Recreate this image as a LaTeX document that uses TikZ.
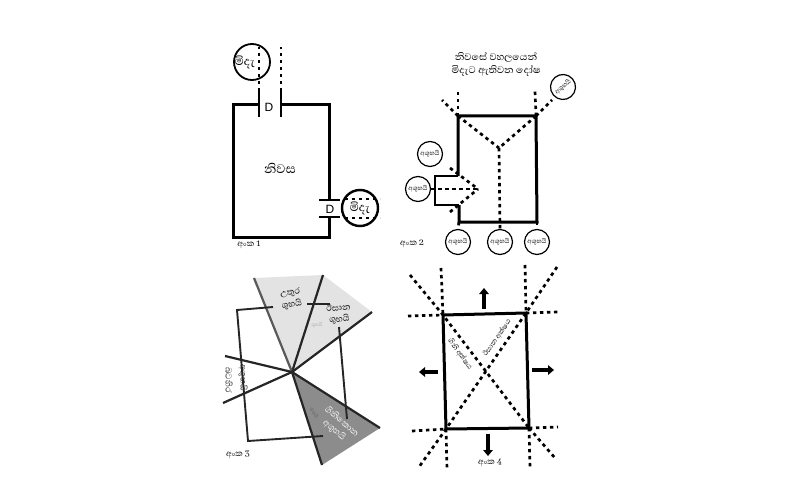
\documentclass[tikz,border=0pt]{standalone}
\usepackage{fontspec}
\setsansfont{Liberation Sans}
\newfontfamily\sinfont[Script=Sinhala]{Abhaya Libre}
\usetikzlibrary{shapes.geometric, positioning, arrows.meta, calc}
\tikzset{
  wall/.style={line width=3pt, line join=miter},
  door/.style={line width=2.6pt},
  dots/.style={line width=2.7pt, dash pattern=on 3.4pt off 3.6pt},
  axis/.style={line width=2.2pt, black!85},
  frame/.style={line width=1.9pt, black!85},
  yard/.style={circle, draw=black, line width=1.8pt, minimum size=36pt, inner sep=0pt, font=\sinfont\fontsize{15}{15}\selectfont},
  bad/.style={circle, draw=black, line width=1.2pt, minimum size=25pt, inner sep=0pt, font=\sinfont\fontsize{8}{8}\selectfont},
  caption/.style={font=\sinfont\fontsize{10.5}{11}\selectfont},
  lab/.style={font=\sinfont\fontsize{11}{11.5}\selectfont, align=center, inner sep=0pt},
  bigarrow/.style={line width=4.6pt, -{Triangle[length=6pt, width=9.5pt]}}
}
\begin{document}
\begin{tikzpicture}[x=1pt, y=-1pt]
    \useasboundingbox (0,0) rectangle (800,500);

    % --- Panel 1 ---
    \coordinate (a1) at (259,105);
    \coordinate (a2) at (233,105);
    \coordinate (a3) at (233,237);
    \coordinate (a4) at (329,237);
    \coordinate (a5) at (329,200);
    \coordinate (a6) at (329,217);
    \coordinate (a7) at (329,105);
    \coordinate (a8) at (281,105);
    \node (yardtop) [yard] at (252,62) {\hspace*{-14pt}මිදැ};
    \node (yardright) [yard, line width=2.4pt] at (360,208) {මිදැ};
    \node (house) [font=\sinfont\fontsize{16}{16}\selectfont] at (280,168) {නිවස};
    \node (dtop) [font=\sffamily\fontsize{12}{12}\selectfont] at (269,107) {D};
    \node (dright) [font=\sffamily\fontsize{12}{12}\selectfont] at (330,209) {D};
    \node (cap1) [caption] at (249,245) {අංක 1};
    \draw [wall] (a1) -- (a2) -- (a3) -- (a4) -- (a6);
    \draw [wall] (a5) -- (a7) -- (a8);
    \draw [door] (259,88) coordinate (t1) -- (259,117);
    \draw [door] (281,88) coordinate (t2) -- (281,117);
    \draw [door] (319,200) coordinate (r1) -- (340,200);
    \draw [door] (319,217) coordinate (r2) -- (340,217);
    \draw [dots] (t1) ++(0,-4) -- (259,47);
    \draw [dots] (t2) ++(0,-4) -- (281,47);
    \draw [dots] (345,199) -- (380,199);
    \draw [dots] (345,218) -- (380,218);

    % --- Panel 2 ---
    \coordinate (b1) at (458,116);
    \coordinate (b2) at (536,116);
    \coordinate (b3) at (537,222);
    \coordinate (b4) at (459,222);
    \coordinate (b5) at (459,205);
    \coordinate (b6) at (435,205);
    \coordinate (b7) at (435,176);
    \coordinate (b8) at (458,176);
    \coordinate (ridge) at (499,148);
    \coordinate (tip) at (478,189);
    \node (title) [lab, font=\sinfont\fontsize{12.5}{13}\selectfont] at (496,64) {නිවසේ වහලයෙන්\\ මිදැට ඇතිවන දෝෂ};
    \node (c1) [bad] at (458,242) {අශුභයි};
    \node (c2) [bad] at (500,242) {අශුභයි};
    \node (c3) [bad] at (537,242) {අශුභයි};
    \node (c4) [bad, rotate=40] at (563,87) {අශුභයි};
    \node (c5) [bad] at (430,154) {අශුභයි};
    \node (c6) [bad] at (418,189) {අශුභයි};
    \node (cap2) [caption] at (412,244) {අංක 2};
    \draw [wall] (b8) -- (b1) -- (b2) -- (b3) -- (b4) -- (b5);
    \draw [wall, line width=2.4pt] (b5) -- (b6) -- (b7) -- (b8);
    \draw [dots] (b1) -- (458,91);
    \draw [dots] (b2) -- (535,91);
    \draw [dots] (b1) -- (442,100);
    \draw [dots] (b1) -- (ridge);
    \draw [dots] (b2) -- (ridge);
    \draw [dots] (b2) -- (552,100);
    \draw [dots] (ridge) -- (c2.north);
    \draw [dots] (c6.east) -- (tip);
    \draw [dots] (450,168) -- (tip);
    \draw [dots] (450,212) -- (tip);
    \draw [dots] (b4) -- (c1.north);
    \draw [dots] (b3) -- (c3.north);

    % --- Panel 3 ---
    \coordinate (o) at (292,372);
    \coordinate (w1) at (254,278);
    \coordinate (w2) at (323,275);
    \coordinate (w3) at (372,312);
    \coordinate (w4) at (380,428);
    \coordinate (w5) at (322,465);
    \fill [black!11] (o) -- (w1) -- (w2) -- (w3) -- cycle;
    \fill [black!45] (o) -- (w4) -- (w5) -- cycle;
    \draw [axis] (o) -- (w2);
    \draw [axis, black!65] (o) -- (w1);
    \draw [axis] (o) -- (w3);
    \draw [axis] (o) -- (w4);
    \draw [axis] (o) -- (w5);
    \draw [axis] (o) -- (225,356);
    \draw [axis] (o) -- (223,403);
    \draw [frame] (273,307) -- (237,310) -- (248,441) -- (323,436);
    \draw [frame] (307,304) -- (330,304);
    \draw [frame] (339,327) -- (347,419);
    \node (north) [lab, rotate=8] at (291,299) {උතුර\\ ශුභයි};
    \node (east) [lab, rotate=5] at (339,314) {ඊසාන\\ ශුභයි};
    \node (faint) [lab, black!35, font=\sinfont\fontsize{6}{6}\selectfont] at (317,325) {ශුභයි};
    \node (west) [lab, rotate=-90, black!85] at (229,380) {බටහිර};
    \node (west2) [lab, rotate=-90, black!85] at (243,378) {අශුභයි};
    \node (southeast) [lab, rotate=-40, white] at (338,426) {ගිනිකොන\\ අශුභයි};
    \node (faint2) [lab, black!65, rotate=-60, font=\sinfont\fontsize{6}{6}\selectfont] at (314,413) {ශුභයි};
    \node (cap3) [caption] at (238,455) {අංක 3};

    % --- Panel 4 ---
    \coordinate (d1) at (443,315);
    \coordinate (d2) at (526,313);
    \coordinate (d3) at (529,428);
    \coordinate (d4) at (446,429);
    \draw [wall] (d1) -- (d2) -- (d3) -- (d4) -- cycle;
    \draw [dots] (410,275) -- (d1) -- (d3);
    \draw [dots] (d3) -- (555,458);
    \draw [dots] (557,267) -- (d2) -- (d4) -- (419,467);
    \draw [dots] (441,268) -- (d1);
    \draw [dots] (525,265) -- (d2);
    \draw [dots] (d4) -- (447,470);
    \draw [dots] (d3) -- (530,468);
    \draw [dots] (408,316) -- (d1);
    \draw [dots] (d2) -- (558,312);
    \draw [dots] (412,431) -- (d4);
    \draw [dots] (d3) -- (558,427);
    \draw [bigarrow] (484,309) -- (484,288);
    \draw [bigarrow] (488,434) -- (488,456);
    \draw [bigarrow] (438,372) -- (419,372);
    \draw [bigarrow] (532,370) -- (554,370);
    \node (axis1) [lab, rotate=-54, font=\sinfont\fontsize{9}{9}\selectfont] at (460,354) {ගිනි අක්ෂය};
    \node (axis2) [lab, rotate=55, font=\sinfont\fontsize{9}{9}\selectfont] at (497,338) {ඊසාන අක්ෂය};
    \node (cap4) [caption] at (490,463) {අංක 4};
\end{tikzpicture}
\end{document}
